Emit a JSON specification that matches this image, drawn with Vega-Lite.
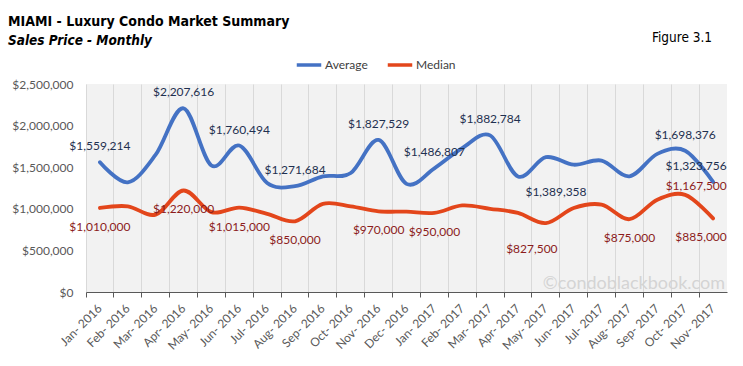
{
  "$schema": "https://vega.github.io/schema/vega-lite/v6.json",
  "width": 641,
  "height": 208,
  "autosize": {"type": "none"},
  "padding": {"left": 86, "top": 84, "right": 16, "bottom": 74},
  "background": "white",
  "title": {
    "text": "MIAMI - Luxury Condo Market Summary",
    "subtitle": "Sales Price - Monthly",
    "anchor": "start",
    "frame": "group",
    "dx": -78,
    "dy": 29,
    "offset": 12,
    "font": "DejaVu Sans Condensed",
    "fontSize": 14,
    "fontWeight": "bold",
    "color": "#000000",
    "subtitleFont": "DejaVu Sans Condensed",
    "subtitleFontSize": 13.5,
    "subtitleFontWeight": "bold",
    "subtitleFontStyle": "italic",
    "subtitleColor": "#000000",
    "subtitlePadding": 5
  },
  "config": {
    "view": {"fill": "#F2F2F2", "stroke": null},
    "font": "Lato"
  },
  "data": {
    "values": [
      {"month": "Jan- 2016", "series": "Average", "value": 1559214, "labeled": true},
      {"month": "Feb- 2016", "series": "Average", "value": 1318000, "labeled": false},
      {"month": "Mar- 2016", "series": "Average", "value": 1650000, "labeled": false},
      {"month": "Apr- 2016", "series": "Average", "value": 2207616, "labeled": true},
      {"month": "May- 2016", "series": "Average", "value": 1520000, "labeled": false},
      {"month": "Jun- 2016", "series": "Average", "value": 1760494, "labeled": true},
      {"month": "Jul- 2016", "series": "Average", "value": 1310000, "labeled": false},
      {"month": "Aug- 2016", "series": "Average", "value": 1271684, "labeled": true},
      {"month": "Sep- 2016", "series": "Average", "value": 1390000, "labeled": false},
      {"month": "Oct- 2016", "series": "Average", "value": 1430000, "labeled": false},
      {"month": "Nov- 2016", "series": "Average", "value": 1827529, "labeled": true},
      {"month": "Dec- 2016", "series": "Average", "value": 1300000, "labeled": false},
      {"month": "Jan- 2017", "series": "Average", "value": 1486807, "labeled": true},
      {"month": "Feb- 2017", "series": "Average", "value": 1730000, "labeled": false},
      {"month": "Mar- 2017", "series": "Average", "value": 1882784, "labeled": true},
      {"month": "Apr- 2017", "series": "Average", "value": 1389358, "labeled": true},
      {"month": "May- 2017", "series": "Average", "value": 1620000, "labeled": false},
      {"month": "Jun- 2017", "series": "Average", "value": 1530000, "labeled": false},
      {"month": "Jul- 2017", "series": "Average", "value": 1580000, "labeled": false},
      {"month": "Aug- 2017", "series": "Average", "value": 1390000, "labeled": false},
      {"month": "Sep- 2017", "series": "Average", "value": 1660000, "labeled": false},
      {"month": "Oct- 2017", "series": "Average", "value": 1698376, "labeled": true},
      {"month": "Nov- 2017", "series": "Average", "value": 1323756, "labeled": true},
      {"month": "Jan- 2016", "series": "Median", "value": 1010000, "labeled": true},
      {"month": "Feb- 2016", "series": "Median", "value": 1030000, "labeled": false},
      {"month": "Mar- 2016", "series": "Median", "value": 930000, "labeled": false},
      {"month": "Apr- 2016", "series": "Median", "value": 1220000, "labeled": true},
      {"month": "May- 2016", "series": "Median", "value": 960000, "labeled": false},
      {"month": "Jun- 2016", "series": "Median", "value": 1015000, "labeled": true},
      {"month": "Jul- 2016", "series": "Median", "value": 940000, "labeled": false},
      {"month": "Aug- 2016", "series": "Median", "value": 850000, "labeled": true},
      {"month": "Sep- 2016", "series": "Median", "value": 1060000, "labeled": false},
      {"month": "Oct- 2016", "series": "Median", "value": 1030000, "labeled": false},
      {"month": "Nov- 2016", "series": "Median", "value": 970000, "labeled": true},
      {"month": "Dec- 2016", "series": "Median", "value": 965000, "labeled": false},
      {"month": "Jan- 2017", "series": "Median", "value": 950000, "labeled": true},
      {"month": "Feb- 2017", "series": "Median", "value": 1040000, "labeled": false},
      {"month": "Mar- 2017", "series": "Median", "value": 1000000, "labeled": false},
      {"month": "Apr- 2017", "series": "Median", "value": 950000, "labeled": false},
      {"month": "May- 2017", "series": "Median", "value": 827500, "labeled": true},
      {"month": "Jun- 2017", "series": "Median", "value": 1010000, "labeled": false},
      {"month": "Jul- 2017", "series": "Median", "value": 1050000, "labeled": false},
      {"month": "Aug- 2017", "series": "Median", "value": 875000, "labeled": true},
      {"month": "Sep- 2017", "series": "Median", "value": 1110000, "labeled": false},
      {"month": "Oct- 2017", "series": "Median", "value": 1167500, "labeled": true},
      {"month": "Nov- 2017", "series": "Median", "value": 885000, "labeled": true}
    ]
  },
  "encoding": {
    "x": {
      "field": "month",
      "type": "nominal",
      "scale": {
        "type": "band",
        "paddingInner": 0,
        "paddingOuter": 0,
        "domain": ["Jan- 2016", "Feb- 2016", "Mar- 2016", "Apr- 2016", "May- 2016", "Jun- 2016", "Jul- 2016", "Aug- 2016", "Sep- 2016", "Oct- 2016", "Nov- 2016", "Dec- 2016", "Jan- 2017", "Feb- 2017", "Mar- 2017", "Apr- 2017", "May- 2017", "Jun- 2017", "Jul- 2017", "Aug- 2017", "Sep- 2017", "Oct- 2017", "Nov- 2017"]
      },
      "axis": {
        "title": null,
        "bandPosition": 0,
        "labelOffset": 0,
        "labelAngle": -45,
        "labelAlign": "right",
        "labelBaseline": "middle",
        "labelPadding": 9,
        "labelFont": "Lato",
        "labelFontSize": 12,
        "labelColor": "#595959",
        "grid": true,
        "gridColor": "#D9D9D9",
        "gridWidth": 1,
        "domainColor": "#595959",
        "tickColor": "#595959",
        "tickSize": 5
      }
    },
    "y": {
      "field": "value",
      "type": "quantitative",
      "scale": {"domain": [0, 2500000], "nice": false},
      "axis": {
        "title": null,
        "values": [0, 500000, 1000000, 1500000, 2000000, 2500000],
        "format": "$,.0f",
        "domain": false,
        "ticks": false,
        "grid": false,
        "labelPadding": 13,
        "labelFont": "Lato",
        "labelFontSize": 12,
        "labelColor": "#595959"
      }
    }
  },
  "layer": [
    {
      "mark": {"type": "line", "interpolate": "cardinal", "strokeWidth": 3.8, "strokeCap": "round"},
      "encoding": {
        "color": {
          "field": "series",
          "type": "nominal",
          "scale": {"domain": ["Average", "Median"], "range": ["#4472C4", "#E3461B"]},
          "legend": {
            "title": null,
            "orient": "none",
            "direction": "horizontal",
            "legendX": 209,
            "legendY": -33,
            "symbolType": "stroke",
            "symbolSize": 600,
            "symbolStrokeWidth": 3.5,
            "labelFont": "Lato",
            "labelFontSize": 12,
            "labelColor": "#404040",
            "columnPadding": 12,
            "labelOffset": 2
          }
        }
      }
    },
    {
      "transform": [{"filter": "datum.series == 'Average' && datum.labeled && datum.month != 'Apr- 2017' && datum.month != 'Nov- 2017'"}],
      "mark": {"type": "text", "dy": -16, "fontSize": 12, "font": "Lato", "color": "#1F3050"},
      "encoding": {"text": {"field": "value", "type": "quantitative", "format": "$,.0f"}}
    },
    {
      "transform": [{"filter": "datum.series == 'Average' && datum.month == 'Nov- 2017'"}],
      "mark": {"type": "text", "dy": -16, "dx": -17, "fontSize": 12, "font": "Lato", "color": "#1F3050"},
      "encoding": {"text": {"field": "value", "type": "quantitative", "format": "$,.0f"}}
    },
    {
      "transform": [{"filter": "datum.series == 'Average' && datum.month == 'Apr- 2017'"}],
      "mark": {"type": "text", "dy": 16, "dx": 38, "fontSize": 12, "font": "Lato", "color": "#1F3050"},
      "encoding": {"text": {"field": "value", "type": "quantitative", "format": "$,.0f"}}
    },
    {
      "transform": [{"filter": "datum.series == 'Median' && datum.labeled && datum.month != 'May- 2017' && datum.month != 'Oct- 2017' && datum.month != 'Nov- 2017'"}],
      "mark": {"type": "text", "dy": 19, "fontSize": 12, "font": "Lato", "color": "#8C1C1C"},
      "encoding": {"text": {"field": "value", "type": "quantitative", "format": "$,.0f"}}
    },
    {
      "transform": [{"filter": "datum.series == 'Median' && datum.month == 'May- 2017'"}],
      "mark": {"type": "text", "dy": 26, "dx": -14, "fontSize": 12, "font": "Lato", "color": "#8C1C1C"},
      "encoding": {"text": {"field": "value", "type": "quantitative", "format": "$,.0f"}}
    },
    {
      "transform": [{"filter": "datum.series == 'Median' && datum.month == 'Oct- 2017'"}],
      "mark": {"type": "text", "dy": -9, "dx": 11, "fontSize": 12, "font": "Lato", "color": "#8C1C1C"},
      "encoding": {"text": {"field": "value", "type": "quantitative", "format": "$,.0f"}}
    },
    {
      "transform": [{"filter": "datum.series == 'Median' && datum.month == 'Nov- 2017'"}],
      "mark": {"type": "text", "dy": 19, "dx": -12, "fontSize": 12, "font": "Lato", "color": "#8C1C1C"},
      "encoding": {"text": {"field": "value", "type": "quantitative", "format": "$,.0f"}}
    },
    {
      "transform": [{"filter": "datum.series == 'Average' && datum.month == 'Nov- 2017'"}],
      "mark": {"type": "text", "text": "©condoblackbook.com", "align": "right", "baseline": "bottom", "dx": 12, "dy": 1, "fontSize": 18, "font": "Lato", "color": "#D4D4D4"},
      "encoding": {
        "y": {"datum": 0}
      }
    },
    {
      "transform": [{"filter": "datum.series == 'Average' && datum.month == 'Nov- 2017'"}],
      "mark": {"type": "text", "text": "Figure 3.1", "align": "right", "baseline": "middle", "dx": -1, "fontSize": 13.5, "font": "DejaVu Sans Condensed", "color": "#000000"},
      "encoding": {
        "y": {"datum": 3053000}
      }
    }
  ]
}
